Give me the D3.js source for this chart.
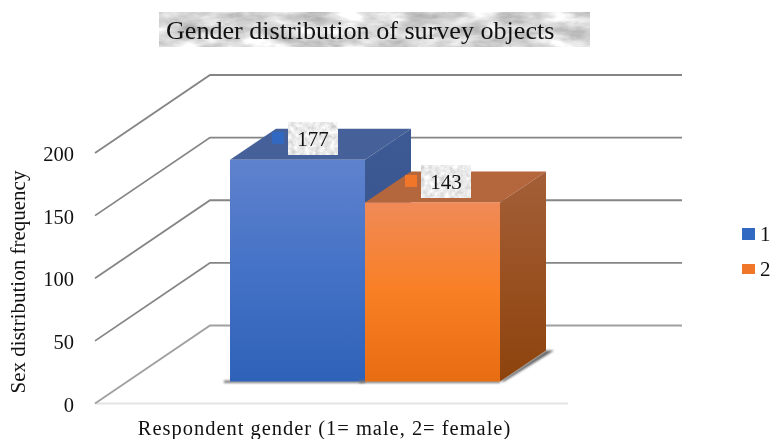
<!DOCTYPE html>
<html><head><meta charset="utf-8">
<script src="https://cdn.jsdelivr.net/npm/d3@7"></script>
<style>html,body{margin:0;padding:0;background:#fff}svg{display:block;font-family:"Liberation Serif",serif;color:#111}</style>
</head><body><div id="chart"></div>
<script>
const categories = ["1", "2"];
const values = [177, 143];
const yTicks = [0, 50, 100, 150, 200];
const titleText = "Gender distribution of survey objects";
const yTitle = "Sex distribution frequency";
const xTitle = "Respondent gender (1= male, 2= female)";
const frontColors = [["#5f82cd", "#4472c6", "#2e62b8"], ["#f08a58", "#f97f24", "#e86c12"]];
const topColors = ["#466199", "#b4663c"];
const sideColors = [["#3e5a94", "#2f4f8c"], ["#a45f38", "#8e430c"]];
const legendColors = ["#3168c2", "#f0762a"];

const W = 771, H = 439;
const svg = d3.select("#chart").append("svg").attr("width", W).attr("height", H);
const defs = svg.append("defs");

const y = d3.scaleLinear().domain([0, 200]).range([403.5, 153]);
const x = d3.scaleBand().domain(categories).range([230, 500]).padding(0);
const wallDepth = { dx: 115, dy: -78 };
const barDepth = { dx: 46, dy: -31 };
const barLift = 22;

function tex(id, freq, k, lo) {
  const f = defs.append("filter").attr("id", id).attr("x", 0).attr("y", 0).attr("width", 1).attr("height", 1)
    .attr("color-interpolation-filters", "sRGB");
  f.append("feTurbulence").attr("type", "fractalNoise").attr("baseFrequency", freq).attr("numOctaves", 4).attr("seed", 7);
  f.append("feColorMatrix").attr("type", "matrix")
    .attr("values", `${k} ${k} 0 0 ${lo} ${k} ${k} 0 0 ${lo} ${k} ${k} 0 0 ${lo} 0 0 0 0 1`);
}
tex("texTitle", "0.03 0.08", 0.4, 0.45);
tex("texLabel", "0.2", 0.22, 0.7);

function vGrad(id, c) {
  const g = defs.append("linearGradient").attr("id", id).attr("x1", 0).attr("x2", 0).attr("y1", 0).attr("y2", 1);
  c.forEach((col, k) => g.append("stop").attr("offset", k / (c.length - 1)).attr("stop-color", col));
}
categories.forEach((c, i) => { vGrad("front" + i, frontColors[i]); vGrad("side" + i, sideColors[i]); });
defs.append("filter").attr("id", "soft").attr("x", "-20%").attr("y", "-200%").attr("width", "140%").attr("height", "500%")
  .append("feGaussianBlur").attr("stdDeviation", 1.2);

const root = svg.append("g").style("filter", "blur(0.45px)");

// title
root.append("rect").attr("x", 159).attr("y", 12).attr("width", 431).attr("height", 35).attr("filter", "url(#texTitle)");
root.append("text").attr("x", 166).attr("y", 39).attr("font-size", 26.1).attr("fill", "#111").text(titleText);

// floor front edge
root.append("line").attr("x1", 95).attr("x2", 568).attr("y1", y(0)).attr("y2", y(0))
  .attr("stroke", "#e4e4e4").attr("stroke-width", 2);

// walls
const grid = root.append("g");
yTicks.forEach(t => {
  const stroke = t === 0 ? "#a0a0a0" : "#858585";
  grid.append("path")
    .attr("d", `M95,${y(t)}L${95 + wallDepth.dx},${y(t) + wallDepth.dy}L682,${y(t) + wallDepth.dy}`)
    .attr("fill", "none").attr("stroke", stroke).attr("stroke-width", 1.8);
});

// bars
const base = y(0) - barLift;
const h = d3.scaleLinear().domain([0, 200]).range([0, y(0) - y(200)]);
categories.forEach((c, i) => {
  const x0 = x(c), x1 = x0 + x.bandwidth(), top = base - h(values[i]);
  const g = root.append("g");
  if (i === categories.length - 1)
    g.append("path").attr("d", `M${x1},${base}L${x1 + barDepth.dx},${base + barDepth.dy}L${x1 + barDepth.dx + 8},${base + barDepth.dy}L${x1 + 4},${base}Z`)
      .attr("fill", "#666").attr("filter", "url(#soft)");
  g.append("rect").attr("x", x0 - 6).attr("y", base - 1).attr("width", x.bandwidth() + 6).attr("height", 2.5).attr("fill", "#777").attr("filter", "url(#soft)");
  g.append("path").attr("d", `M${x0},${top}L${x1},${top}L${x1 + barDepth.dx},${top + barDepth.dy}L${x0 + barDepth.dx},${top + barDepth.dy}Z`).attr("fill", topColors[i]);
  g.append("path").attr("d", `M${x1},${top}L${x1 + barDepth.dx},${top + barDepth.dy}L${x1 + barDepth.dx},${base + barDepth.dy}L${x1},${base}Z`).attr("fill", `url(#side${i})`);
  g.append("rect").attr("x", x0).attr("y", top).attr("width", x.bandwidth()).attr("height", base - top).attr("fill", `url(#front${i})`);
});

// data labels
categories.forEach((c, i) => {
  const top = base - h(values[i]);
  const bx = x(c) + 58 - (i ? 2 : 0), by = top - 37 + (i ? 0.5 : 0);
  const g = root.append("g");
  g.append("rect").attr("x", bx).attr("y", by).attr("width", 50).attr("height", 32).attr("filter", "url(#texLabel)");
  g.append("text").attr("x", bx + 25).attr("y", by + 23).attr("text-anchor", "middle").attr("font-size", 21).attr("fill", "#111").text(values[i]);
  g.append("rect").attr("x", bx - 16).attr("y", by + 9).attr("width", 12).attr("height", 12).attr("fill", legendColors[i]);
});

// y axis
const yAxis = root.append("g").attr("transform", "translate(74,1)")
  .call(d3.axisLeft(y).tickValues(yTicks).tickSize(0).tickPadding(0));
yAxis.select(".domain").remove();
yAxis.selectAll("text").attr("font-family", "Liberation Serif").attr("font-size", 20.5).attr("fill", "#111");

root.append("text").attr("transform", "translate(25,282) rotate(-90)").attr("text-anchor", "middle")
  .attr("font-size", 21).attr("fill", "#111").text(yTitle);
root.append("text").attr("x", 324.5).attr("y", 435).attr("text-anchor", "middle")
  .attr("font-size", 20.5).attr("letter-spacing", 0.98).attr("fill", "#111").text(xTitle);

// legend
const legend = d3.scaleBand().domain(categories).range([216, 288]).padding(0);
categories.forEach((c, i) => {
  const cy = legend(c) + legend.bandwidth() / 2 + (i ? -1 : 0);
  root.append("rect").attr("x", 742).attr("y", cy - 6 + (i ? 1 : 0)).attr("width", 13).attr("height", i ? 10 : 12).attr("fill", legendColors[i]);
  root.append("text").attr("x", 760).attr("y", cy + 7).attr("font-size", 21).attr("fill", "#111").text(c);
});
</script></body></html>
